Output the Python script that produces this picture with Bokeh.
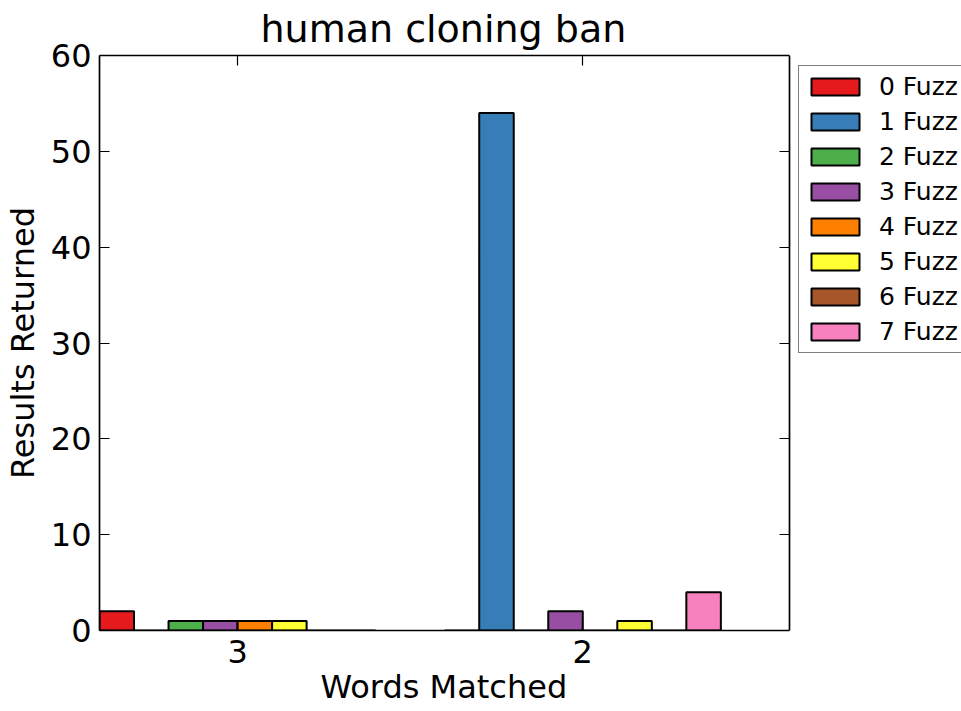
from bokeh.plotting import figure
from bokeh.models import Range1d, FixedTicker, LinearAxis, Legend, LegendItem, ColumnDataSource, Title
from bokeh.embed import file_html
from bokeh.resources import INLINE

# ---- data ----
categories = ["3", "2"]              # words matched (groups, left to right)
fuzz_labels = ["0 Fuzz", "1 Fuzz", "2 Fuzz", "3 Fuzz", "4 Fuzz", "5 Fuzz", "6 Fuzz", "7 Fuzz"]
fuzz_colors = ["#e41a1c", "#377eb8", "#4daf4a", "#984ea3", "#ff7f00", "#ffff33", "#a65628", "#f781bf"]
values_3 = [2, 0, 1, 1, 1, 1, 0, 0]
values_2 = [0, 54, 0, 2, 0, 1, 0, 4]
y_ticks = [0, 10, 20, 30, 40, 50, 60]

series = [values_3, values_2]
bar_w = 0.1
n_f = len(fuzz_labels)
group_idx = list(range(len(categories)))
tick_pos = [g + bar_w * n_f / 2 for g in group_idx]
x_max = float(len(categories))       # right spine of the axes box
y_max = 60

FONT = "DejaVu Sans"
# the frame runs to the page edge so that the legend (outside the axes box) is not clipped
LEFT, RIGHT_SPINE, W = 97, 789, 961
x_view_end = x_max * (W - LEFT) / (RIGHT_SPINE - LEFT)

p = figure(width=W, height=711, output_backend="svg", toolbar_location=None,
           x_range=Range1d(0, x_view_end), y_range=Range1d(0, y_max),
           min_border_left=LEFT, min_border_right=0, min_border_top=54, min_border_bottom=81,
           title="human cloning ban")
p.background_fill_color = "white"
p.border_fill_color = "white"
p.outline_line_color = None
p.xgrid.visible = False
p.ygrid.visible = False

p.title.align = "left"
p.title.offset = 161
p.title.text_font = FONT
p.title.text_font_size = "38px"
p.title.text_font_style = "normal"
p.title.text_color = "black"
p.title.standoff = 9

items = []
for i, lab in enumerate(fuzz_labels):
    xs = [g + i * bar_w + bar_w / 2 for g in group_idx]
    tops = [s[i] for s in series]
    src = ColumnDataSource(dict(x=xs, top=tops))
    r = p.vbar(x="x", top="top", bottom=0, width=bar_w, source=src,
               fill_color=fuzz_colors[i], line_color="black", line_width=2)
    items.append(LegendItem(label=lab, renderers=[r]))

def style_axis(ax):
    ax.axis_line_color = "black"
    ax.axis_line_width = 1.7
    ax.major_tick_in = 10
    ax.major_tick_out = 0
    ax.minor_tick_in = 0
    ax.minor_tick_out = 0
    ax.major_tick_line_color = "black"
    ax.major_tick_line_width = 1.2

# axes
xax = p.xaxis[0]
xax.ticker = FixedTicker(ticks=tick_pos)
xax.major_label_overrides = {t: c for t, c in zip(tick_pos, categories)}
xax.bounds = (0, x_max)
yax = p.yaxis[0]
yax.ticker = FixedTicker(ticks=y_ticks)
yax.bounds = (0, y_max)
for ax in (xax, yax):
    style_axis(ax)
    ax.major_label_text_font = FONT
    ax.major_label_text_font_size = "32px"
    ax.major_label_text_color = "black"
    ax.axis_label_text_font = FONT
    ax.axis_label_text_font_size = "32px"
    ax.axis_label_text_font_style = "normal"
    ax.axis_label_text_color = "black"
yax.axis_label = "Results Returned"
xax.major_label_standoff = 9
yax.major_label_standoff = 8
yax.axis_label_standoff = 6

# x-axis label, centred under the axes box (not under the whole frame)
xlabel = Title(text="Words Matched", align="left", offset=221,
               text_font=FONT, text_font_size="32px", text_font_style="normal",
               text_color="black", standoff=0)
p.add_layout(xlabel, "below")

top_ax = LinearAxis(ticker=FixedTicker(ticks=tick_pos), bounds=(0, x_max))
top_ax.major_label_overrides = {t: "" for t in tick_pos}
right_ax = LinearAxis(ticker=FixedTicker(ticks=y_ticks), bounds=(0, y_max), fixed_location=x_max)
right_ax.major_label_overrides = {t: "" for t in y_ticks}
for ax in (top_ax, right_ax):
    style_axis(ax)
    ax.major_label_standoff = 0
p.add_layout(top_ax, "above")
p.add_layout(right_ax, "right")

legend = Legend(items=items, location=(699, 277))
legend.label_text_font = FONT
legend.label_text_font_size = "25px"
legend.label_text_color = "black"
legend.glyph_width = 60
legend.glyph_height = 21
legend.label_height = 28
legend.label_width = 100
legend.label_standoff = 14
legend.spacing = 6
legend.padding = 6
legend.margin = 0
legend.border_line_color = "black"
legend.border_line_width = 1.7
legend.background_fill_color = "white"
legend.background_fill_alpha = 1.0
p.add_layout(legend, "center")

open("out.html", "w").write(file_html(p, INLINE))
